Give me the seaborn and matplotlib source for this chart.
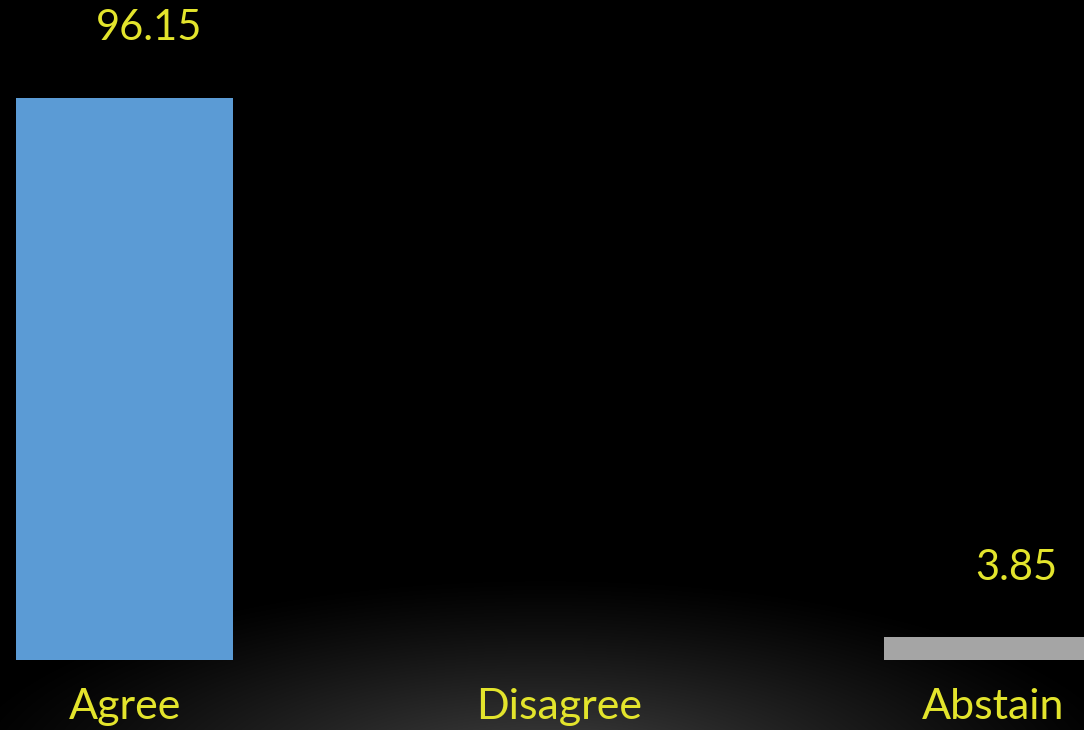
import numpy as np
import matplotlib
matplotlib.use("Agg")
import matplotlib.pyplot as plt
import seaborn as sns

categories = ["Agree", "Disagree", "Abstain"]
values = [96.15, 0.0, 3.85]
bar_colors = ["#5B9BD5", "#5B9BD5", "#A5A5A5"]
value_labels = ["96.15", "", "3.85"]

sns.set_style("dark")
plt.rcParams['font.family'] = ['Lato', 'DejaVu Sans']

W, H = 1084, 730
fig = plt.figure(figsize=(W / 100, H / 100), dpi=100)
fig.patch.set_facecolor("black")

# background radial glow
bg = fig.add_axes([0, 0, 1, 1])
yy, xx = np.mgrid[0:H, 0:W]
d = np.sqrt(((xx - 545) / 600.0) ** 2 + ((yy - 775) / 200.0) ** 2)
inten = np.clip(1 - d, 0, 1) ** 1.2 * 0.27
img = np.dstack([inten, inten, inten])
bg.imshow(img, extent=[0, W, H, 0], aspect="auto", interpolation="bilinear")
bg.axis("off")

ax = fig.add_axes([0, 70 / H, 1, 660 / H])
ax.set_facecolor("none")
sns.barplot(x=categories, y=values, hue=categories, palette=bar_colors, width=0.5,
            legend=False, ax=ax, saturation=1, linewidth=0)
ax.set_xlim(-0.288, 2.21)
ax.set_ylim(0, 112.9)
yellow = "#E3E42C"
for i, (v, lab) in enumerate(zip(values, value_labels)):
    if lab:
        ax.text(i + 0.055, v + 11.9, lab, ha="center", va="center",
                color=yellow, fontsize=30)
ax.set_yticks([])
ax.tick_params(axis="x", length=0, pad=20, labelsize=31, labelcolor=yellow)
ax.set_xlabel("")
ax.set_ylabel("")
for s in ax.spines.values():
    s.set_visible(False)
ax.grid(False)

fig.savefig("out.png", dpi=100, facecolor="black")
